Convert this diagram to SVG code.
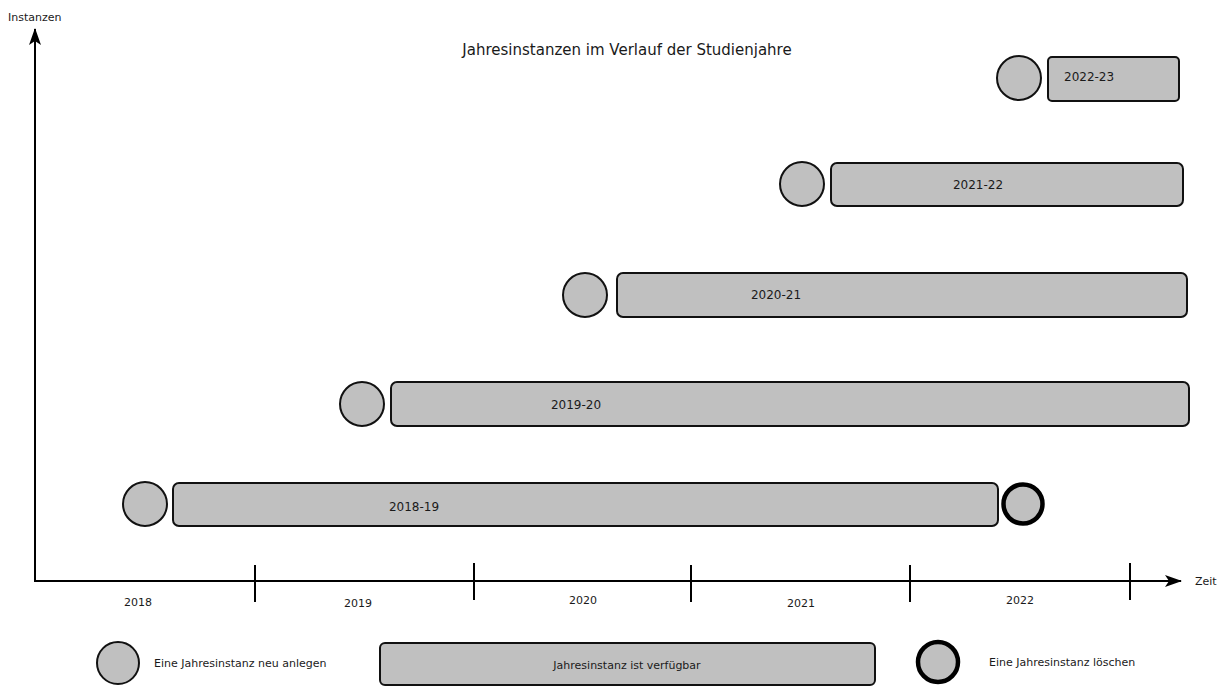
<svg xmlns="http://www.w3.org/2000/svg" width="1228" height="686" viewBox="0 0 1228 686">
<defs>
<style>
text{font-family:"DejaVu Sans","Liberation Sans",sans-serif;font-size:11px;fill:#1a1a1a;dominant-baseline:central}
.bl{font-size:12px}
.c{fill:#c0c0c0;stroke:#111;stroke-width:2}
.d{fill:#c0c0c0;stroke:#000;stroke-width:4.5}
.b{fill:#c0c0c0;stroke:#111;stroke-width:2}
.ax{stroke:#000;stroke-width:2;fill:none}
.m{text-anchor:middle}
</style>
<marker id="ah" viewBox="0 0 17 12" refX="16" refY="6" markerWidth="17" markerHeight="12" markerUnits="userSpaceOnUse" orient="auto"><path d="M0,0 L17,6 L0,12 L4,6 Z" fill="#000"/></marker>
</defs>
<rect width="1228" height="686" fill="#fff"/>
<g id="connectors">
<line class="ax" x1="35" y1="582" x2="35" y2="29" marker-end="url(#ah)"/>
<line class="ax" x1="34" y1="581" x2="1181" y2="581" marker-end="url(#ah)"/>
<line class="ax" x1="255" y1="565" x2="255" y2="602"/>
<line class="ax" x1="474" y1="563" x2="474" y2="600"/>
<line class="ax" x1="691" y1="565" x2="691" y2="602"/>
<line class="ax" x1="910" y1="565" x2="910" y2="602"/>
<line class="ax" x1="1130" y1="563" x2="1130" y2="600"/>
</g>
<g id="labels">
<text x="8" y="17">Instanzen</text>
<text x="1195" y="581">Zeit</text>
<text class="m" x="627" y="50" style="font-size:15px">Jahresinstanzen im Verlauf der Studienjahre</text>
<text class="m" x="138" y="602">2018</text>
<text class="m" x="358" y="603">2019</text>
<text class="m" x="583" y="600">2020</text>
<text class="m" x="801" y="603">2021</text>
<text class="m" x="1020" y="600">2022</text>
</g>
<g id="row-2018-19">
<circle class="c" cx="145" cy="504" r="22"/>
<rect class="b" x="173" y="483" width="825" height="43" rx="6"/>
<text class="m bl" x="414" y="507">2018-19</text>
<circle class="d" cx="1023" cy="504" r="19.5"/>
</g>
<g id="row-2019-20">
<circle class="c" cx="362" cy="404" r="22"/>
<rect class="b" x="391" y="382" width="798" height="44" rx="6"/>
<text class="m bl" x="576" y="405">2019-20</text>
</g>
<g id="row-2020-21">
<circle class="c" cx="585" cy="295" r="22"/>
<rect class="b" x="617" y="273" width="570" height="44" rx="6"/>
<text class="m bl" x="776" y="295">2020-21</text>
</g>
<g id="row-2021-22">
<circle class="c" cx="802" cy="184" r="22"/>
<rect class="b" x="831" y="163" width="352" height="43" rx="6"/>
<text class="m bl" x="978" y="185">2021-22</text>
</g>
<g id="row-2022-23">
<circle class="c" cx="1019" cy="78" r="22"/>
<rect class="b" x="1048" y="57" width="131" height="44" rx="4"/>
<text class="bl" x="1064" y="77">2022-23</text>
</g>
<g id="legend-new">
<circle class="c" cx="118" cy="663" r="21"/>
<text x="154" y="663">Eine Jahresinstanz neu anlegen</text>
</g>
<g id="legend-available">
<rect class="b" x="380" y="643" width="495" height="42" rx="5"/>
<text class="m" x="627" y="665">Jahresinstanz ist verfügbar</text>
</g>
<g id="legend-delete">
<circle class="d" cx="938" cy="662" r="20"/>
<text x="989" y="662">Eine Jahresinstanz löschen</text>
</g>
</svg>
